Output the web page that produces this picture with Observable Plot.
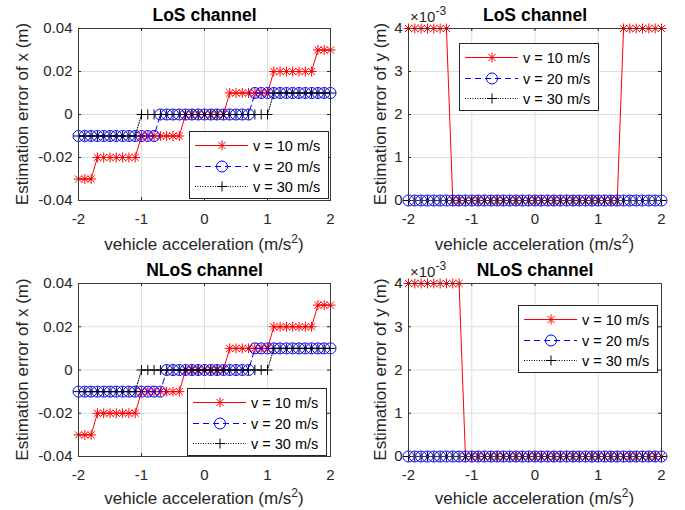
<!DOCTYPE html>
<html><head><meta charset="utf-8">
<script src="https://cdn.jsdelivr.net/npm/d3@7"></script>
<script src="https://cdn.jsdelivr.net/npm/@observablehq/plot@0.6"></script>
<style>
body{margin:0;background:#fff;}
#fig{position:relative;width:685px;height:510px;background:#fff;}
#fig svg{position:absolute;overflow:visible;}
</style></head><body><div id="fig"></div>
<script>
// ---------- data ----------
const accel = [-2,-1.9,-1.8,-1.7,-1.6,-1.5,-1.4,-1.3,-1.2,-1.1,-1,-0.9,-0.8,-0.7,-0.6,-0.5,-0.4,-0.3,-0.2,-0.1,0,
  0.1,0.2,0.3,0.4,0.5,0.6,0.7,0.8,0.9,1,1.1,1.2,1.3,1.4,1.5,1.6,1.7,1.8,1.9,2];
const seriesNames = ["v = 10 m/s", "v = 20 m/s", "v = 30 m/s"];
const xTicks = [-2, -1, 0, 1, 2];
const errXTicks = [-0.04, -0.02, 0, 0.02, 0.04];
const errYTicks = [0, 0.001, 0.002, 0.003, 0.004];
const titles = ["LoS channel", "LoS channel", "NLoS channel", "NLoS channel"];
const yLabels = ["Estimation error of x (m)", "Estimation error of y (m)"];
const xLabel = "vehicle acceleration (m/s";

// LoS, x error
const losX10 = [-0.03,-0.03,-0.03,-0.02,-0.02,-0.02,-0.02,-0.02,-0.02,-0.02,-0.01,-0.01,-0.01,-0.01,-0.01,-0.01,-0.01,0,0,0,0,
  0,0,0,0.01,0.01,0.01,0.01,0.01,0.01,0.01,0.02,0.02,0.02,0.02,0.02,0.02,0.02,0.03,0.03,0.03];
const losX20 = [-0.01,-0.01,-0.01,-0.01,-0.01,-0.01,-0.01,-0.01,-0.01,-0.01,-0.01,-0.01,-0.01,0,0,0,0,0,0,0,0,
  0,0,0,0,0,0,0,0.01,0.01,0.01,0.01,0.01,0.01,0.01,0.01,0.01,0.01,0.01,0.01,0.01];
const losX30 = [-0.01,-0.01,-0.01,-0.01,-0.01,-0.01,-0.01,-0.01,-0.01,-0.01,0,0,0,0,0,0,0,0,0,0,0,
  0,0,0,0,0,0,0,0,0,0,0.01,0.01,0.01,0.01,0.01,0.01,0.01,0.01,0.01,0.01];
// NLoS, x error
const nlosX10 = [-0.03,-0.03,-0.03,-0.02,-0.02,-0.02,-0.02,-0.02,-0.02,-0.02,-0.01,-0.01,-0.01,-0.01,-0.01,-0.01,-0.01,0,0,0,0,
  0,0,0,0.01,0.01,0.01,0.01,0.01,0.01,0.01,0.02,0.02,0.02,0.02,0.02,0.02,0.02,0.03,0.03,0.03];
const nlosX20 = [-0.01,-0.01,-0.01,-0.01,-0.01,-0.01,-0.01,-0.01,-0.01,-0.01,-0.01,-0.01,-0.01,-0.01,0,0,0,0,0,0,0,
  0,0,0,0,0,0,0,0.01,0.01,0.01,0.01,0.01,0.01,0.01,0.01,0.01,0.01,0.01,0.01,0.01];
const nlosX30 = [-0.01,-0.01,-0.01,-0.01,-0.01,-0.01,-0.01,-0.01,-0.01,-0.01,0,0,0,0,0,0,0,0,0,0,0,
  0,0,0,0,0,0,0,0,0,0,0.01,0.01,0.01,0.01,0.01,0.01,0.01,0.01,0.01,0.01];
// LoS, y error
const losY10 = [0.004,0.004,0.004,0.004,0.004,0.004,0.004,0,0,0,0,0,0,0,0,0,0,0,0,0,0,
  0,0,0,0,0,0,0,0,0,0,0,0,0,0.004,0.004,0.004,0.004,0.004,0.004,0.004];
const losY20 = [0,0,0,0,0,0,0,0,0,0,0,0,0,0,0,0,0,0,0,0,0,0,0,0,0,0,0,0,0,0,0,0,0,0,0,0,0,0,0,0,0];
const losY30 = [0,0,0,0,0,0,0,0,0,0,0,0,0,0,0,0,0,0,0,0,0,0,0,0,0,0,0,0,0,0,0,0,0,0,0,0,0,0,0,0,0];
// NLoS, y error
const nlosY10 = [0.004,0.004,0.004,0.004,0.004,0.004,0.004,0.004,0.004,0,0,0,0,0,0,0,0,0,0,0,0,
  0,0,0,0,0,0,0,0,0,0,0,0,0,0,0,0,0,0,0,0];
const nlosY20 = [0,0,0,0,0,0,0,0,0,0,0,0,0,0,0,0,0,0,0,0,0,0,0,0,0,0,0,0,0,0,0,0,0,0,0,0,0,0,0,0,0];
const nlosY30 = [0,0,0,0,0,0,0,0,0,0,0,0,0,0,0,0,0,0,0,0,0,0,0,0,0,0,0,0,0,0,0,0,0,0,0,0,0,0,0,0,0];

// ---------- drawing ----------
const FONT = "'Liberation Sans', Arial, Helvetica, sans-serif";
const AXC = "#262626";
const rows = (vals) => accel.map((a, i) => ({a, e: vals[i]}));
const fmtX = d => String(d);
const fmtErrX = d => d === 0 ? "0" : String(d);
const fmtErrY = d => String(Math.round(d * 1000));

const STAR_R = 3.3, CIRC_R = 5.5;
const DOTTED = "1,1.5", DASHED = "6,4";

function panel(o) {
  const {left, top, width, height, mL, mR, mT, mB, domain, ticks, fmt, yLabel, yLabelX, title, data, legend, exponent} = o;
  const fw = width - mL - mR, fh = height - mT - mB;
  const [d10, d20, d30] = data.map(rows);
  const chart = Plot.plot({
    width, height, marginLeft: mL, marginRight: mR, marginTop: mT, marginBottom: mB,
    style: {fontFamily: FONT, fontSize: "15px", color: AXC, background: "transparent", overflow: "visible"},
    x: {domain: [-2, 2]},
    y: {domain},
    marks: [
      Plot.gridX(xTicks, {stroke: "#dedede", strokeOpacity: 1, strokeWidth: 1}),
      Plot.gridY(ticks, {stroke: "#dedede", strokeOpacity: 1, strokeWidth: 1}),
      Plot.axisX({ticks: xTicks, tickFormat: fmtX, tickSize: 0, tickPadding: 13, label: null, fill: AXC}),
      Plot.axisY({ticks, tickFormat: fmt, tickSize: 0, tickPadding: 6, label: null, fill: AXC}),
      // inward ticks on all four sides
      Plot.ruleX(xTicks, {x: d => d, stroke: AXC, insetTop: fh - 3}),
      Plot.ruleX(xTicks, {x: d => d, stroke: AXC, insetBottom: fh - 3}),
      Plot.ruleY(ticks, {y: d => d, stroke: AXC, insetRight: fw - 3}),
      Plot.ruleY(ticks, {y: d => d, stroke: AXC, insetLeft: fw - 3}),
      // v = 10
      Plot.line(d10, {x: "a", y: "e", stroke: "#ff0000", strokeWidth: 1}),
      Plot.dot(d10, {x: "a", y: "e", symbol: "plus", r: STAR_R, stroke: "#ff0000", strokeWidth: 1}),
      Plot.dot(d10, {x: "a", y: "e", symbol: "times", r: STAR_R, stroke: "#ff0000", strokeWidth: 1}),
      // v = 20
      Plot.line(d20, {x: "a", y: "e", stroke: "#0000ff", strokeWidth: 1, strokeDasharray: DASHED}),
      Plot.dot(d20, {x: "a", y: "e", symbol: "circle", r: CIRC_R, stroke: "#0000ff", fill: "none", strokeWidth: 1}),
      // v = 30
      Plot.line(d30, {x: "a", y: "e", stroke: "#000000", strokeWidth: 1, strokeDasharray: DOTTED}),
      Plot.dot(d30, {x: "a", y: "e", symbol: "plus", r: STAR_R, stroke: "#000000", strokeWidth: 1}),
      Plot.frame({stroke: "#3a3a3a", strokeWidth: 1}),
      Plot.text([title], {frameAnchor: "top", lineAnchor: "bottom", dy: -8, fontWeight: "bold", fontSize: 17.5, fill: "#000"})
    ]
  });
  const svg = d3.select(chart);
  svg.style("left", left + "px").style("top", top + "px");

  // y label
  svg.append("text")
    .attr("transform", `translate(${yLabelX},${mT + fh / 2}) rotate(-90)`)
    .attr("text-anchor", "middle")
    .attr("font-family", FONT).attr("font-size", 17).attr("fill", AXC)
    .text(yLabel);
  // x label with superscript
  const xl = svg.append("text")
    .attr("x", mL + fw / 2).attr("y", mT + fh + o.xLabelDy)
    .attr("text-anchor", "middle")
    .attr("font-family", FONT).attr("font-size", 17).attr("fill", AXC);
  xl.append("tspan").text(xLabel);
  xl.append("tspan").attr("dy", -7).attr("font-size", 12).text("2");
  xl.append("tspan").attr("dy", 7).text(")");

  if (exponent) {
    const ex = svg.append("text").attr("x", mL + 2).attr("y", mT - 6)
      .attr("text-anchor", "start")
      .attr("font-family", FONT).attr("font-size", 15).attr("fill", AXC);
    ex.append("tspan").text("\u00d710");
    ex.append("tspan").attr("dy", -7).attr("font-size", 12).text("-3");
  }

  // legend
  const [lx, ly] = legend;
  const g = svg.append("g").attr("transform", `translate(${lx},${ly})`);
  g.append("rect").attr("x", 0.5).attr("y", 0.5).attr("width", 139).attr("height", 67)
    .attr("fill", "#fff").attr("stroke", "#262626").attr("stroke-width", 1);
  const styles = [
    {stroke: "#ff0000", dash: null, syms: [d3.symbolPlus, d3.symbolTimes], r: STAR_R},
    {stroke: "#0000ff", dash: DASHED, syms: [d3.symbolCircle], r: CIRC_R},
    {stroke: "#000000", dash: DOTTED, syms: [d3.symbolPlus], r: STAR_R}
  ];
  seriesNames.forEach((name, i) => {
    const yy = Math.round(14 + i * 20.5) + 0.5, st = styles[i];
    const ln = g.append("line").attr("x1", 6).attr("x2", 59).attr("y1", yy).attr("y2", yy)
      .attr("stroke", st.stroke).attr("stroke-width", 1);
    if (st.dash) ln.attr("stroke-dasharray", st.dash);
    st.syms.forEach(s => {
      g.append("path").attr("transform", `translate(33,${yy})`)
        .attr("d", d3.symbol(s, st.r * st.r * Math.PI)())
        .attr("fill", "none").attr("stroke", st.stroke).attr("stroke-width", 1);
    });
    g.append("text").attr("x", 64).attr("y", yy + 5)
      .attr("text-anchor", "start")
      .attr("font-family", FONT).attr("font-size", 14.5).attr("fill", "#000").text(name);
  });

  document.getElementById("fig").appendChild(chart);
}

panel({left: 0, top: 0, width: 342, height: 255, mL: 78, mR: 12, mT: 28, mB: 55,
  domain: [-0.04, 0.04], ticks: errXTicks, fmt: fmtErrX, yLabel: yLabels[0], yLabelX: 28,
  title: titles[0], data: [losX10, losX20, losX30], legend: [189, 131], xLabelDy: 50});
panel({left: 342, top: 0, width: 343, height: 255, mL: 66, mR: 24, mT: 28, mB: 55,
  domain: [0, 0.004], ticks: errYTicks, fmt: fmtErrY, yLabel: yLabels[1], yLabelX: 44,
  title: titles[1], data: [losY10, losY20, losY30], legend: [117, 43], exponent: true, xLabelDy: 50});
panel({left: 0, top: 255, width: 342, height: 255, mL: 78, mR: 12, mT: 28, mB: 54,
  domain: [-0.04, 0.04], ticks: errXTicks, fmt: fmtErrX, yLabel: yLabels[0], yLabelX: 28,
  title: titles[2], data: [nlosX10, nlosX20, nlosX30], legend: [187, 133], xLabelDy: 48});
panel({left: 342, top: 255, width: 343, height: 255, mL: 66, mR: 24, mT: 28, mB: 54,
  domain: [0, 0.004], ticks: errYTicks, fmt: fmtErrY, yLabel: yLabels[1], yLabelX: 44,
  title: titles[3], data: [nlosY10, nlosY20, nlosY30], legend: [176, 50], exponent: true, xLabelDy: 48});
</script>
</body></html>
